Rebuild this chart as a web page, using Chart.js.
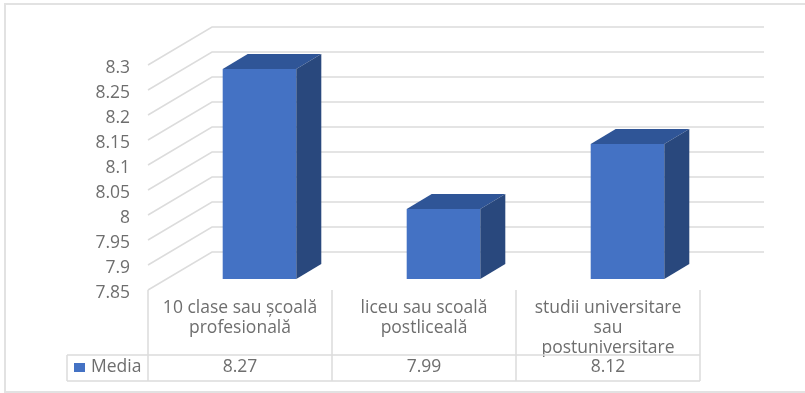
<!DOCTYPE html>
<html>
<head>
<meta charset="utf-8">
<style>
  html, body { margin: 0; padding: 0; background: #fff; }
  #wrap { width: 805px; height: 393px; }
</style>
<script src="https://cdn.jsdelivr.net/npm/chart.js@4/dist/chart.umd.min.js"></script>
</head>
<body>
<div id="wrap"><canvas id="chart" width="805" height="393"></canvas></div>
<script>
"use strict"
const categories = [
    ["10 clase sau școală", "profesională"],
    ["liceu sau scoală", "postliceală"],
    ["studii universitare", "sau", "postuniversitare"]
];
const seriesName = "Media";
const mediaValues = [8.27, 7.99, 8.12];
const tableValues = ["8.27", "7.99", "8.12"];
const yTickValues = [7.85, 7.9, 7.95, 8, 8.05, 8.1, 8.15, 8.2, 8.25, 8.3];

const textColor = "#6e6e6e";
const lineColor = "#dcdcdc";
const fontFamily = "'Open Sans', sans-serif";

// depth of the floor and of the bars, the library has no 3d so this is done by hand
const wallDx = 64, wallDy = 38;
const barDx = 25, barDy = 15;
const barShiftX = 19.5, barShiftY = -11;

// grid on the floor and back wall, table under the chart
const backdrop = {
    id: "backdrop",
    beforeDatasetsDraw(chart) {
        const ctx = chart.ctx, y = chart.scales.y, area = chart.chartArea;
        ctx.save();
        ctx.strokeStyle = lineColor;
        ctx.lineWidth = 1.5;
        yTickValues.forEach(function (v) {
            const py = y.getPixelForValue(v);
            ctx.beginPath();
            ctx.moveTo(area.left, py);
            ctx.lineTo(area.left + wallDx, py - wallDy);
            ctx.lineTo(area.right + wallDx, py - wallDy);
            ctx.stroke();
        });
        ctx.restore();
    },
    afterDraw(chart) {
        const ctx = chart.ctx, x = chart.scales.x, area = chart.chartArea;
        const rowTop = 355, rowBottom = 381, tableLeft = 67;
        ctx.save();
        ctx.strokeStyle = lineColor;
        ctx.lineWidth = 1.5;

        ctx.beginPath();
        ctx.moveTo(tableLeft, rowTop);
        ctx.lineTo(area.right, rowTop);
        ctx.moveTo(tableLeft, rowBottom);
        ctx.lineTo(area.right, rowBottom);
        ctx.moveTo(tableLeft, rowTop);
        ctx.lineTo(tableLeft, rowBottom);
        const step = (area.right - area.left) / categories.length;
        for (let i = 0; i <= categories.length; i++) {
            ctx.moveTo(area.left + i * step, area.bottom);
            ctx.lineTo(area.left + i * step, rowBottom);
        }
        ctx.stroke();

        // outer frame of the picture
        ctx.lineWidth = 2;
        ctx.strokeStyle = "#e2e2e2";
        ctx.beginPath();
        ctx.moveTo(805, 4);
        ctx.lineTo(5, 4);
        ctx.lineTo(5, 392);
        ctx.lineTo(805, 392);
        ctx.stroke();

        ctx.fillStyle = textColor;
        ctx.font = "17.5px " + fontFamily;
        ctx.textBaseline = "middle";
        ctx.textAlign = "center";
        tableValues.forEach(function (t, i) {
            ctx.fillText(t, x.getPixelForValue(i), 367);
        });
        ctx.textAlign = "left";
        ctx.fillText(seriesName, 91, 367);
        ctx.fillStyle = "#4472c4";
        ctx.fillRect(74, 363, 11, 9);
        ctx.restore();
    }
};

// bars stand a bit behind the front edge of the floor
const bars3d = {
    id: "bars3d",
    beforeDatasetDraw(chart) {
        chart.ctx.save();
        chart.ctx.translate(barShiftX, barShiftY);
    },
    afterDatasetDraw(chart, args) {
        const ctx = chart.ctx;
        args.meta.data.forEach(function (bar) {
            const l = bar.x - bar.width / 2, r = bar.x + bar.width / 2;
            ctx.fillStyle = "#2f5597";
            ctx.beginPath();
            ctx.moveTo(l, bar.y);
            ctx.lineTo(l + barDx, bar.y - barDy);
            ctx.lineTo(r + barDx, bar.y - barDy);
            ctx.lineTo(r, bar.y);
            ctx.closePath();
            ctx.fill();
            ctx.fillStyle = "#29487d";
            ctx.beginPath();
            ctx.moveTo(r, bar.y);
            ctx.lineTo(r + barDx, bar.y - barDy);
            ctx.lineTo(r + barDx, bar.base - barDy);
            ctx.lineTo(r, bar.base);
            ctx.closePath();
            ctx.fill();
        });
        ctx.restore();
    }
};

new Chart(document.getElementById("chart").getContext("2d"), {
    type: "bar",
    data: {
        labels: categories,
        datasets: [{
            label: seriesName,
            data: mediaValues,
            base: yTickValues[0],
            backgroundColor: "#4472c4",
            barPercentage: 0.4,
            categoryPercentage: 1,
            clip: false
        }]
    },
    options: {
        responsive: false,
        animation: false,
        layout: { padding: { left: 0, top: 65, right: 105, bottom: 0 } },
        plugins: { legend: { display: false }, tooltip: { enabled: false } },
        scales: {
            x: {
                border: { display: false },
                grid: { display: false, tickLength: 8 },
                afterFit(scale) { scale.height = 103; },
                ticks: {
                    autoSkip: false,
                    maxRotation: 0,
                    padding: 0,
                    color: textColor,
                    font: { family: fontFamily, size: 17.5, lineHeight: 1.143 }
                }
            },
            y: {
                min: 7.85,
                max: 8.3,
                border: { display: false },
                grid: { display: false },
                afterFit(scale) { scale.width = 148; },
                afterBuildTicks(scale) {
                    scale.ticks = yTickValues.map(function (v) { return { value: v }; });
                },
                ticks: {
                    padding: 10,
                    labelOffset: 3,
                    color: textColor,
                    font: { family: fontFamily, size: 17.5 },
                    callback: function (v) { return String(v); }
                }
            }
        }
    },
    plugins: [backdrop, bars3d]
});
</script>
</body>
</html>
